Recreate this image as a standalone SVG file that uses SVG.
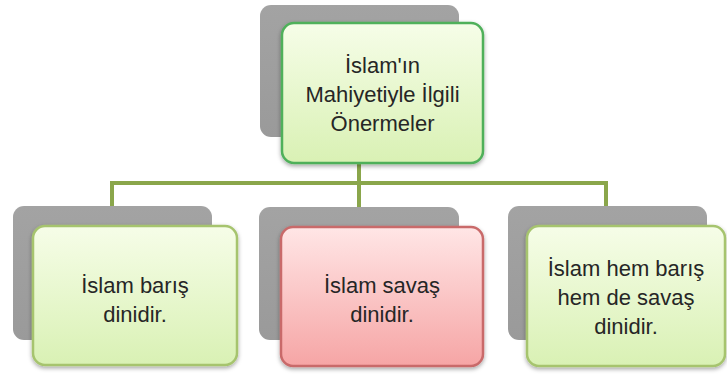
<svg xmlns="http://www.w3.org/2000/svg" width="727" height="376" viewBox="0 0 727 376">
<defs>
<linearGradient id="gGreen" x1="0" y1="0" x2="0" y2="1">
<stop offset="0" stop-color="#F6FDE8"/>
<stop offset="1" stop-color="#D9F1B4"/>
</linearGradient>
<linearGradient id="gPink" x1="0" y1="0" x2="0" y2="1">
<stop offset="0" stop-color="#FFE6E6"/>
<stop offset="1" stop-color="#F6A5A5"/>
</linearGradient>
<linearGradient id="gGray" x1="0" y1="0" x2="0" y2="1">
<stop offset="0" stop-color="#A3A3A3"/>
<stop offset="1" stop-color="#9A9A9A"/>
</linearGradient>
<filter id="sh" x="-10%" y="-10%" width="120%" height="130%">
<feDropShadow dx="0" dy="2" stdDeviation="2" flood-color="#000" flood-opacity="0.35"/>
</filter>
</defs>
<style>
.back{fill:url(#gGray);}
.front{stroke-width:2.5;filter:url(#sh);}
.green{fill:url(#gGreen);stroke:#A6C46E;}
.topg{fill:url(#gGreen);stroke:#4FB05A;}
.pink{fill:url(#gPink);stroke:#C96A6A;}
.conn{stroke:#8AA64B;stroke-width:4;fill:none;}
text{font-family:"Liberation Sans",Arial,sans-serif;font-size:22px;fill:#262626;text-anchor:middle;}
</style>
<rect width="727" height="376" fill="#FFFFFF"/>
<g id="connectors">
<line class="conn" x1="359" y1="163" x2="359" y2="183"/>
<line class="conn" x1="110" y1="183" x2="608" y2="183"/>
<line class="conn" x1="112" y1="181" x2="112" y2="207"/>
<line class="conn" x1="359" y1="181" x2="359" y2="208"/>
<line class="conn" x1="606" y1="181" x2="606" y2="207"/>
</g>
<g id="node-root">
<rect class="back" x="260" y="5" width="199" height="132" rx="11"/>
<rect class="front topg" x="282" y="23" width="201" height="140" rx="12"/>
<text x="382.5" y="73">İslam'ın</text>
<text x="382.5" y="102">Mahiyetiyle İlgili</text>
<text x="382.5" y="131">Önermeler</text>
</g>
<g id="node-baris">
<rect class="back" x="13" y="206" width="199" height="134" rx="11"/>
<rect class="front green" x="33" y="226" width="204" height="139" rx="12"/>
<text x="135" y="293">İslam barış</text>
<text x="135" y="322">dinidir.</text>
</g>
<g id="node-savas">
<rect class="back" x="259" y="207" width="200" height="133" rx="11"/>
<rect class="front pink" x="281" y="227" width="202" height="139" rx="12"/>
<text x="382" y="293">İslam savaş</text>
<text x="382" y="322">dinidir.</text>
</g>
<g id="node-her-ikisi">
<rect class="back" x="508" y="206" width="199" height="134" rx="11"/>
<rect class="front green" x="527" y="226" width="198" height="140" rx="12"/>
<text x="626" y="276">İslam hem barış</text>
<text x="626" y="305">hem de savaş</text>
<text x="626" y="334">dinidir.</text>
</g>
</svg>
